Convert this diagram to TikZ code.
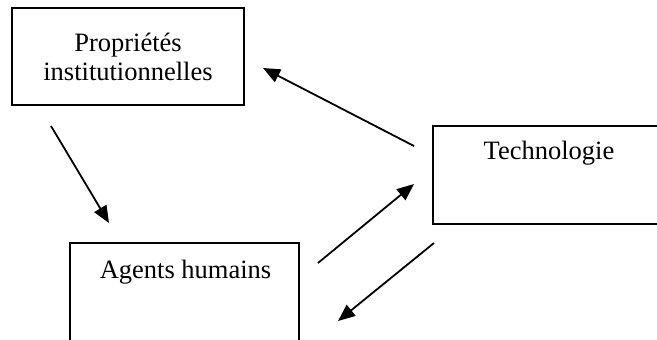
\documentclass[tikz,border=0pt]{standalone}
\usepackage{fontspec}
\setmainfont{Liberation Serif}
\usetikzlibrary{arrows.meta}
\begin{document}
\begin{tikzpicture}[x=1pt,y=-1pt,
  frame/.style={draw,line width=1.8pt,rectangle,inner sep=0pt,outer sep=0pt},
  label/.style={font=\fontsize{26.5}{28.5}\selectfont,align=center,inner sep=0pt},
  link/.style={line width=1.8pt,-{Triangle[length=17pt,width=14pt]}}]
\useasboundingbox (0,0) rectangle (657,340);
\clip (0,0) rectangle (657,340);
% boxes
\node[frame,minimum width=232pt,minimum height=97pt] (boxP) at (128,56.5) {};
\node[frame,minimum width=242pt,minimum height=98pt] (boxT) at (554,175) {};
\node[frame,minimum width=229pt,minimum height=117pt] (boxA) at (184.5,301.5) {};
% labels
\node[label] (props) at (128,57) {Propriétés\\institutionnelles};
\node[label] (tech) at (549,153) {Technologie};
\node[label] (agents) at (185.5,272) {Agents humains};
% arrow ends
\coordinate (tp1) at (414,146);
\coordinate (pt1) at (263,68);
\coordinate (ag1) at (318,263);
\coordinate (te1) at (414,184);
\coordinate (te2) at (434,243);
\coordinate (ag2) at (338,321);
\coordinate (pr1) at (51,126);
\coordinate (ag3) at (109,223);
\draw[link] (tp1) -- (pt1);
\draw[link] (ag1) -- (te1);
\draw[link] (te2) -- (ag2);
\draw[link] (pr1) -- (ag3);
\end{tikzpicture}
\end{document}
